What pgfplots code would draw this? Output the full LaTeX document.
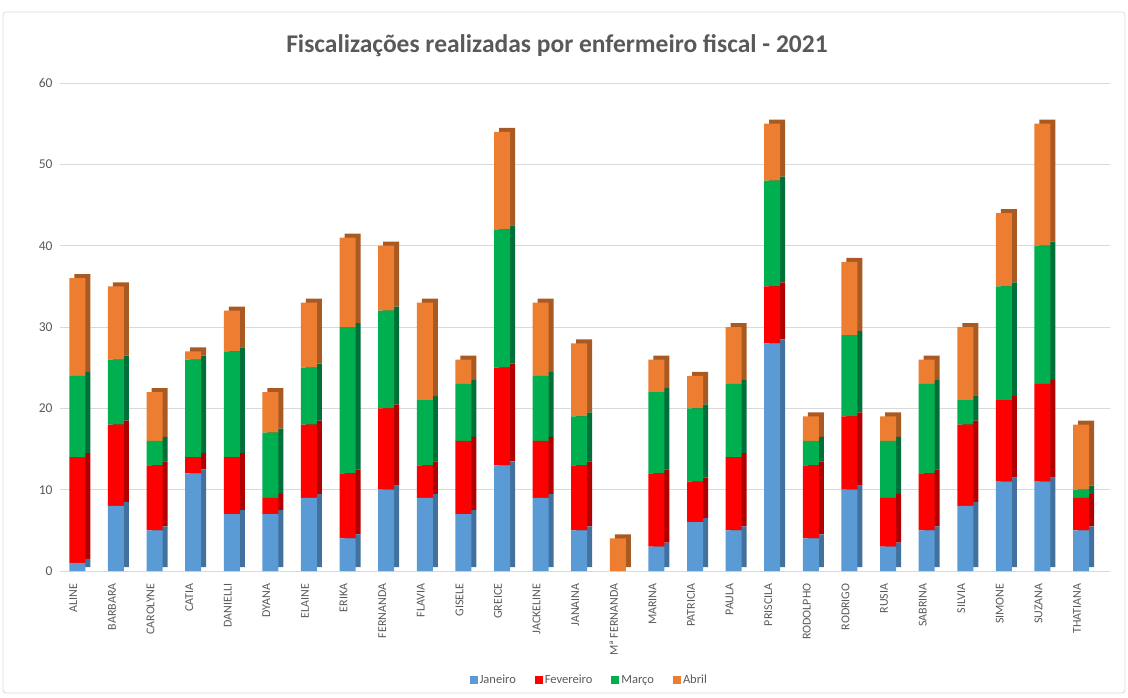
\documentclass[border=0pt]{standalone}
\usepackage{fontspec}
\setmainfont{Carlito}
\usepackage{pgfplots}
\pgfplotsset{compat=1.18}
\usepackage{pgfplotstable}
\definecolor{cJ}{HTML}{5B9BD5}
\definecolor{cF}{HTML}{FF0000}
\definecolor{cM}{HTML}{00B050}
\definecolor{cA}{HTML}{ED7D31}
\definecolor{dJ}{HTML}{41719C}
\definecolor{dF}{HTML}{B00000}
\definecolor{dM}{HTML}{00703A}
\definecolor{dA}{HTML}{A95A22}
\definecolor{txt}{HTML}{595959}
\definecolor{grd}{HTML}{D9D9D9}
\pgfplotstableread{
x J F M A
0 1 13 10 12
1 8 10 8 9
2 5 8 3 6
3 12 2 12 1
4 7 7 13 5
5 7 2 8 5
6 9 9 7 8
7 4 8 18 11
8 10 10 12 8
9 9 4 8 12
10 7 9 7 3
11 13 12 17 12
12 9 7 8 9
13 5 8 6 9
14 0 0 0 4
15 3 9 10 4
16 6 5 9 4
17 5 9 9 7
18 28 7 13 7
19 4 9 3 3
20 10 9 10 9
21 3 6 7 3
22 5 7 11 3
23 8 10 3 9
24 11 10 14 9
25 11 12 17 15
26 5 4 1 8
}\data
\pgfplotsset{base/.style={at={(60pt,126pt)}, anchor=south west, scale only axis,
  width=1050pt, height=488pt, xmin=-0.45, xmax=26.75, ymin=0, ymax=60,
  ybar stacked, bar width=16pt}}
\begin{document}
\begin{tikzpicture}
\useasboundingbox (0,0) rectangle (1128pt,697pt);
\draw[grd, line width=0.8pt, rounded corners=3pt] (3pt,4pt) rectangle (1125pt,685pt);
\node[text=txt, font=\fontsize{25.5}{30}\selectfont\bfseries] at (557pt,651pt) {Fiscalizações realizadas por enfermeiro fiscal - 2021};
% grid + ticks
\begin{axis}[base, axis line style={draw=none}, tick style={draw=none},
  ymajorgrids, grid style={grd, line width=0.8pt},
  ytick={0,10,...,60}, yticklabel style={text=txt, font=\fontsize{13.5}{16}\selectfont, xshift=-4pt},
  /pgf/number format/assume math mode=true,
  xtick={0,...,26},
  xticklabels={ALINE,BARBARA,CAROLYNE,CATIA,DANIELLI,DYANA,ELAINE,ERIKA,FERNANDA,FLAVIA,GISELE,GREICE,JACKELINE,JANAINA,Mª FERNANDA,MARINA,PATRICIA,PAULA,PRISCILA,RODOLPHO,RODRIGO,RUSIA,SABRINA,SILVIA,SIMONE,SUZANA,THATIANA},
  xticklabel style={rotate=90, anchor=east, text=txt, font=\fontsize{12}{14}\selectfont, xshift=-9pt, yshift=4pt},
  ]
\addplot[draw=none, fill=none] coordinates {(0,0)};
\end{axis}
% depth (side/top faces)
\begin{axis}[base, xshift=5pt, yshift=4pt, hide axis]
\addplot[fill=dJ, draw=none] table[x=x, y=J] {\data};
\addplot[fill=dF, draw=none] table[x=x, y=F] {\data};
\addplot[fill=dM, draw=none] table[x=x, y=M] {\data};
\addplot[fill=dA, draw=none] table[x=x, y=A] {\data};
\end{axis}
% front faces
\begin{axis}[base, hide axis,
  legend columns=4,
  legend style={at={(0.504,-0.223)}, anchor=center, draw=none, fill=none,
    font=\fontsize{12.5}{15}\selectfont, text=txt,
    /tikz/every even column/.append style={column sep=17pt}},
  legend image code/.code={\path[#1, draw=none] (0pt,-4pt) rectangle (8pt,4pt);},
  ]
\addplot[fill=cJ, draw=none] table[x=x, y=J] {\data};
\addplot[fill=cF, draw=none] table[x=x, y=F] {\data};
\addplot[fill=cM, draw=none] table[x=x, y=M] {\data};
\addplot[fill=cA, draw=none] table[x=x, y=A] {\data};
\legend{Janeiro,Fevereiro,Março,Abril}
\end{axis}
\end{tikzpicture}
\end{document}
